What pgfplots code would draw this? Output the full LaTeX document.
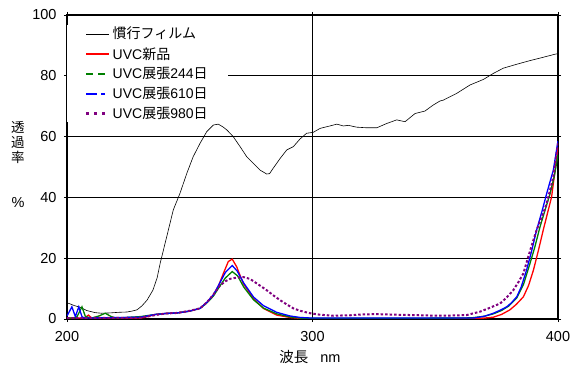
\documentclass[border=0pt]{standalone}
\usepackage{fontspec}
\setmainfont{Liberation Sans}
\newfontfamily\cjk{Noto Sans CJK JP}
\usepackage{pgfplots}
\pgfplotsset{compat=1.18}
\begin{document}
\begin{tikzpicture}
\useasboundingbox (-67bp,-53bp) rectangle (504bp,319bp);
\begin{axis}[
  at={(0,0)}, anchor=south west,
  scale only axis, width=491bp, height=304bp,
  xmin=200, xmax=400, ymin=0, ymax=100,
  xtick={200,300,400}, ytick={0,20,40,60,80,100},
  grid=major, major grid style={black, line width=0.6bp},
  axis line style={line width=1.2bp},
  tick align=outside, major tick length=3bp, tick style={black, line width=0.6bp},
  ticklabel style={font=\fontsize{14.5bp}{17bp}\selectfont},
  /pgf/number format/assume math mode=true,
  xticklabel style={yshift=-6bp},
  yticklabel style={xshift=-4bp},
  legend style={at={(0,1)}, anchor=north west, yshift=-10bp, draw=none, fill=white,
    font=\fontsize{14bp}{16bp}\selectfont, row sep=3bp,
    inner xsep=18bp, inner ysep=0bp},
  legend cell align=left,
  legend image code/.code={\draw[#1] (0bp,0bp) -- (23bp,0bp);},
]
\addplot[black, line width=0.6bp, forget plot] table {
200 5.3
201.2 5.0
203 4.4
205.3 3.9
208 2.8
211.4 2.1
214 1.9
217.5 2.0
221 2.2
224.4 2.3
226.5 2.6
228.5 3.0
230.5 4.3
232.6 6.2
235.0 9.5
236.7 13.5
238 18.5
240.6 27.0
243.3 35.9
246.0 41.3
248.8 47.9
251.4 53.4
254.2 57.8
256.9 61.6
259.6 63.8
261.6 64.1
263.5 63.2
265.1 62.2
267.7 60.0
270.5 56.7
273.2 53.4
275.9 51.2
278.6 49.0
281.3 47.7
282.5 47.8
284.0 49.6
286.8 52.8
289.5 55.6
292.2 56.7
294.9 59.2
297.6 61.1
300.3 61.4
303.1 62.7
307.1 63.5
309.9 64.1
312.6 63.5
314.6 63.7
318.0 63.1
322.1 62.9
326.2 62.9
330.2 64.3
334.3 65.5
337.7 64.9
341.8 67.6
345.8 68.4
349.2 70.4
351.9 71.7
353.3 72.0
358.7 74.2
364.2 77.0
369.6 78.8
373.7 80.8
377.7 82.5
383.2 83.8
388.6 85.0
394.0 86.1
398.8 87.1
400 87.3
};
\addplot[red, line width=1.3bp, forget plot] table {
200 0.3
207 0.3
208.8 1.3
210 0.3
230 0.3
233 0.8
236 1.5
240 1.8
245 2.0
250 2.6
254.2 3.5
257 5.5
259.6 7.9
261.5 10.5
263.7 15.0
265.7 18.9
267.3 19.7
269.1 17.2
271.8 11.7
275.9 6.8
280.0 3.5
285.4 1.3
290.8 0.5
295 0.2
300 0.1
360 0.1
370 0.3
373.7 0.6
377 1.5
380.4 3.0
383 4.8
385.9 7.3
388 11.0
390.0 16.1
392 22.5
394.0 29.3
397.4 40.2
400 56.5
};
\addplot[green!50!black, line width=1.3bp, forget plot] table {
200 0.3
203 0.3
204.1 0.8
206.1 4.0
207.5 0.8
210 0.3
213 1.0
215.6 1.9
218 0.8
220 0.3
230 0.8
236 1.5
240 1.8
245 2.0
250 2.6
254.2 3.5
257 5.3
259.6 7.5
262 10.5
264.5 13.5
267.3 15.6
269.5 14.2
272 10.5
276 6.3
280 3.6
285.4 1.7
290.8 0.7
295 0.3
300 0.2
360 0.3
365 0.4
370 0.9
373.7 1.7
377 2.8
380 4.3
383.2 6.9
386 11.5
388.6 18.3
390.5 23.5
392.7 30.4
394.8 36.0
396.8 41.3
398.5 47.0
400 54.0
};
\addplot[blue, line width=1.3bp, forget plot] table {
200 1.0
202 4.0
203.4 0.8
204.8 4.0
206.1 0.8
207 0.3
230 0.6
236 1.5
240 1.8
245 2.0
250 2.6
254.2 3.5
257 5.5
259.6 7.9
262 11.5
264.5 15.3
267.3 17.6
269.3 15.8
272 11.8
276 7.2
280 4.4
285.4 2.2
290.8 1.0
295 0.5
300 0.3
365.5 0.3
370 0.9
373.7 1.9
376.5 2.9
379.1 4.0
381 5.3
383.2 7.3
385 10.5
387.2 16.1
389.3 22.5
391.3 29.3
393.5 35.5
395.4 41.3
398.1 49.0
400 58.6
};
\addplot[color={rgb,255:red,128;green,0;blue,128}, line width=2bp, dash pattern=on 2.5bp off 2bp, forget plot] table {
200 0.3
230 0.4
236 1.3
240 1.8
245 2.0
250 2.7
254.2 3.5
257 5.5
259.6 8.0
262.3 11.0
264.5 12.4
266.4 13.2
269 13.6
271.8 13.8
274.5 13.2
277.3 11.7
281.3 9.5
284 7.8
286.8 6.2
289.5 4.8
292.2 3.5
295 2.7
299 1.9
303.1 1.4
308.4 1.1
315 1.2
320 1.5
326.2 1.6
335 1.4
350 1.1
355 1.1
362.8 1.3
368.2 2.4
372 3.6
376.4 5.1
379 7.0
381.8 9.5
384 12.3
385.9 15.0
387.9 20.5
389.6 25.0
391.3 29.3
393.4 33.5
395.4 38.0
398.1 46.8
400 57.8
};
\addlegendimage{black, line width=0.6bp}
\addlegendentry{{\cjk 慣行フィルム}}
\addlegendimage{red, line width=1.8bp}
\addlegendentry{UVC{\cjk 新品}}
\addlegendimage{green!50!black, line width=1.8bp, dash pattern=on 7bp off 5bp}
\addlegendentry{UVC{\cjk 展張}244{\cjk 日}}
\addlegendimage{blue, line width=1.8bp, dash pattern=on 11bp off 4bp on 4bp off 4bp}
\addlegendentry{UVC{\cjk 展張}610{\cjk 日}}
\addlegendimage{color={rgb,255:red,128;green,0;blue,128}, line width=2.5bp, dash pattern=on 3bp off 5bp}
\addlegendentry{UVC{\cjk 展張}980{\cjk 日}}
\end{axis}
\node[font=\cjk\fontsize{13.5bp}{15bp}\selectfont] at (-49bp,191.5bp) {透};
\node[font=\cjk\fontsize{13.5bp}{15bp}\selectfont] at (-49bp,176.5bp) {過};
\node[font=\cjk\fontsize{13.5bp}{15bp}\selectfont] at (-49bp,162bp) {率};
\node[font=\fontsize{14.5bp}{17bp}\selectfont] at (-49bp,116bp) {\%};
\node[font=\fontsize{14.5bp}{17bp}\selectfont] at (243bp,-38bp) {{\cjk 波長}\hspace{12bp}nm};
\end{tikzpicture}
\end{document}
